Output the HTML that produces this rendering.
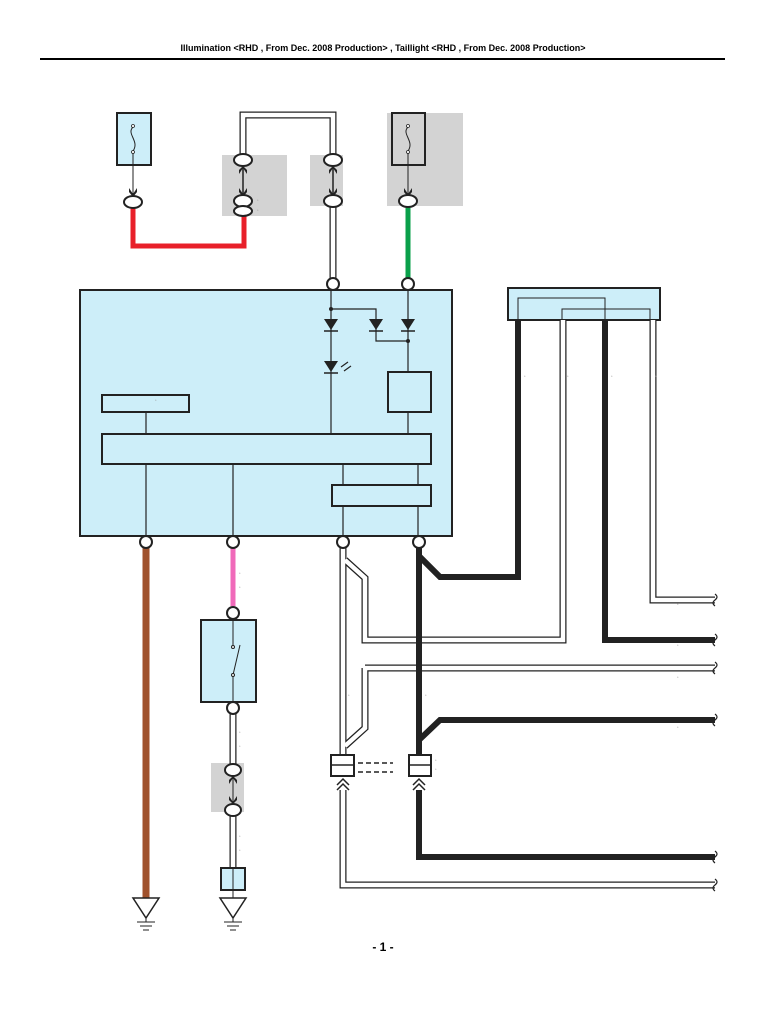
<!DOCTYPE html>
<html><head><meta charset="utf-8"><style>
html,body{margin:0;padding:0;background:#fff;}
svg{display:block;font-family:"Liberation Sans",sans-serif;}
</style></head><body>
<svg width="768" height="1024" viewBox="0 0 768 1024" xmlns="http://www.w3.org/2000/svg">
<text x="383" y="51" font-size="9" font-weight="bold" text-anchor="middle">Illumination &lt;RHD , From Dec. 2008 Production&gt; , Taillight &lt;RHD , From Dec. 2008 Production&gt;</text>
<line x1="40" y1="59" x2="725" y2="59" stroke="#000" stroke-width="2"/>

<rect x="222" y="155" width="65" height="61" fill="#d3d3d3"/>
<rect x="310" y="155" width="33" height="51" fill="#d3d3d3"/>
<rect x="387" y="113" width="76" height="93" fill="#d3d3d3"/>
<rect x="211" y="763" width="33" height="49" fill="#d3d3d3"/>

<rect x="117" y="113" width="34" height="52" fill="#cdeef9" stroke="#222" stroke-width="2"/>
<path d="M133 127 C126 134,140 141,133 151" fill="none" stroke="#222"/>
<circle cx="133" cy="126" r="1.5" fill="#fff" stroke="#222" stroke-width="0.8"/>
<circle cx="133" cy="152" r="1.5" fill="#fff" stroke="#222" stroke-width="0.8"/>
<line x1="133" y1="153" x2="133" y2="195" stroke="#222"/>
<rect x="392" y="113" width="33" height="52" fill="#d3d3d3" stroke="#222" stroke-width="2"/>
<path d="M408 127 C401 134,415 141,408 151" fill="none" stroke="#222"/>
<circle cx="408" cy="126" r="1.5" fill="#fff" stroke="#222" stroke-width="0.8"/>
<circle cx="408" cy="152" r="1.5" fill="#fff" stroke="#222" stroke-width="0.8"/>
<line x1="408" y1="153" x2="408" y2="195" stroke="#222"/>

<path d="M133 208 V246 H244 V214" fill="none" stroke="#e8202a" stroke-width="5"/>
<path d="M408 207 V278" fill="none" stroke="#0aa04a" stroke-width="5"/>
<g fill="none">
<path d="M243 155 V115 H333 V155 M333 206 V278" stroke="#222" stroke-width="7"/>
<path d="M243 155 V115 H333 V155 M333 206 V278" stroke="#fff" stroke-width="4.5"/>
</g>
<line x1="243" y1="166" x2="243" y2="195" stroke="#222" stroke-width="1.5"/>
<line x1="333" y1="166" x2="333" y2="195" stroke="#222" stroke-width="1.5"/>
<g fill="#222">
<path d="M129 188 L133 194 L137 188 L137 192 L133 197 L129 192Z"/>
<path d="M404 188 L408 194 L412 188 L412 192 L408 197 L404 192Z"/>
<path d="M239 188 L243 194 L247 188 L247 192 L243 197 L239 192Z"/>
<path d="M329 188 L333 194 L337 188 L337 192 L333 197 L329 192Z"/>
<path d="M239 174 L243 168 L247 174 L247 170 L243 166 L239 170Z"/>
<path d="M329 174 L333 168 L337 174 L337 170 L333 166 L329 170Z"/>
</g>
<g fill="#fff" stroke="#222" stroke-width="2">
<ellipse cx="133" cy="202" rx="9" ry="6"/>
<ellipse cx="243" cy="160" rx="9" ry="6"/>
<ellipse cx="243" cy="201" rx="9" ry="6"/>
<ellipse cx="243" cy="211" rx="9" ry="5"/>
<ellipse cx="333" cy="160" rx="9" ry="6"/>
<ellipse cx="333" cy="201" rx="9" ry="6"/>
<ellipse cx="408" cy="201" rx="9" ry="6"/>
</g>
<g fill="#999" font-size="4"><text x="257" y="202">*</text><text x="257" y="212">*</text></g>

<rect x="80" y="290" width="372" height="246" fill="#cdeef9" stroke="#222" stroke-width="2"/>
<g stroke="#222" stroke-width="1.2" fill="none">
<path d="M331 290 V434"/>
<path d="M331 309 H376 V341 H408"/>
<path d="M408 290 V372 M408 412 V434"/>
<path d="M146 412 V434"/>
<path d="M146 464 V536 M233 464 V536 M343 464 V485 M343 506 V536 M418 464 V485 M418 506 V536"/>
</g>
<circle cx="331" cy="309" r="2" fill="#222"/>
<circle cx="408" cy="341" r="2" fill="#222"/>
<g fill="#222">
<path d="M324 319 H338 L331 330Z"/><line x1="324" y1="331" x2="338" y2="331" stroke="#222" stroke-width="1.5"/>
<path d="M369 319 H383 L376 330Z"/><line x1="369" y1="331" x2="383" y2="331" stroke="#222" stroke-width="1.5"/>
<path d="M401 319 H415 L408 330Z"/><line x1="401" y1="331" x2="415" y2="331" stroke="#222" stroke-width="1.5"/>
<path d="M324 361 H338 L331 372Z"/><line x1="324" y1="373" x2="338" y2="373" stroke="#222" stroke-width="1.5"/>
</g>
<path d="M341 367 L348 362 M344 371 L351 366" stroke="#222" stroke-width="1.2"/>
<rect x="388" y="372" width="43" height="40" fill="#cdeef9" stroke="#222" stroke-width="2"/>
<rect x="102" y="395" width="87" height="17" fill="#cdeef9" stroke="#222" stroke-width="2"/>
<rect x="102" y="434" width="329" height="30" fill="#cdeef9" stroke="#222" stroke-width="2"/>
<rect x="332" y="485" width="99" height="21" fill="#cdeef9" stroke="#222" stroke-width="2"/>
<g fill="#fff" stroke="#222" stroke-width="2">
<circle cx="333" cy="284" r="6"/><circle cx="408" cy="284" r="6"/>
</g>

<rect x="508" y="288" width="152" height="32" fill="#cdeef9" stroke="#222" stroke-width="2"/>
<path d="M518 320 V298 H605 V320 M562 320 V309 H650 V320" fill="none" stroke="#222" stroke-width="1"/>

<g fill="none" stroke-linejoin="miter">
<path d="M343 548 V757 M343 790 V885 H715 M345 560 L365 578 V640 H563 V320 M365 668 H715 M365 668 V728 L345 746 M653 320 V600 H715" stroke="#222" stroke-width="7"/>
<path d="M343 548 V757 M343 790 V885 H715 M345 560 L365 578 V640 H563 V320 M365 668 H715 M365 668 V728 L345 746 M653 320 V600 H715" stroke="#fff" stroke-width="4.5"/>
<path d="M233 714 V765 M233 816 V868" stroke="#222" stroke-width="7"/>
<path d="M233 714 V765 M233 816 V868" stroke="#fff" stroke-width="4.5"/>
</g>
<g fill="none" stroke="#222" stroke-width="6">
<path d="M518 320 V577 H440 L420 557"/>
<path d="M605 320 V640 H715"/>
<path d="M419 548 V757"/>
<path d="M419 740 L440 720 H715"/>
<path d="M419 790 V857 H715"/>
</g>
<path d="M146 548 V898" stroke="#a0522d" stroke-width="7"/>
<path d="M233 548 V606" stroke="#f06aba" stroke-width="5"/>

<g fill="#fff" stroke="#222" stroke-width="2">
<circle cx="146" cy="542" r="6"/><circle cx="233" cy="542" r="6"/><circle cx="343" cy="542" r="6"/><circle cx="419" cy="542" r="6"/>
</g>

<rect x="201" y="620" width="55" height="82" fill="#cdeef9" stroke="#222" stroke-width="2"/>
<path d="M233 620 V647 M233 675 V702 M233 675 L240 645" stroke="#222" fill="none"/>
<circle cx="233" cy="647" r="1.5" fill="#fff" stroke="#222"/><circle cx="233" cy="675" r="1.5" fill="#fff" stroke="#222"/>
<g fill="#fff" stroke="#222" stroke-width="2">
<circle cx="233" cy="613" r="6"/><circle cx="233" cy="708" r="6"/>
<ellipse cx="233" cy="770" rx="8" ry="6"/><ellipse cx="233" cy="810" rx="8" ry="6"/>
</g>
<line x1="233" y1="776" x2="233" y2="804" stroke="#222"/>
<path d="M229 784 L233 778 L237 784 L237 780 L233 776 L229 780Z M229 796 L233 802 L237 796 L237 800 L233 804 L229 800Z" fill="#222"/>
<rect x="221" y="868" width="24" height="22" fill="#cdeef9" stroke="#222" stroke-width="2"/>
<line x1="233" y1="868" x2="233" y2="900" stroke="#222"/>

<g fill="#fff" stroke="#222" stroke-width="1.5">
<path d="M133 898 H159 L146 918Z"/><path d="M220 898 H246 L233 918Z"/>
</g>
<g stroke="#222" stroke-width="1">
<path d="M146 918 V922 M137 922 H155 M140 926 H152 M143 930 H149"/>
<path d="M233 918 V922 M224 922 H242 M227 926 H239 M230 930 H236"/>
</g>

<g fill="#fff" stroke="#222" stroke-width="2">
<rect x="331" y="755" width="23" height="21"/><rect x="409" y="755" width="22" height="21"/>
</g>
<path d="M331 765 H354 M409 765 H431" stroke="#222" stroke-width="1.5"/>
<path d="M358 763 H393 M358 772 H393" stroke="#222" stroke-width="1.5" stroke-dasharray="5,3"/>
<g fill="none" stroke="#222" stroke-width="1.5">
<path d="M337 785 L343 779 L349 785 M337 790 L343 784 L349 790"/>
<path d="M413 785 L419 779 L425 785 M413 790 L419 784 L425 790"/>
</g>

<g fill="#999" font-size="4">
<text x="524" y="378">*</text><text x="567" y="378">*</text><text x="611" y="378">*</text><text x="655" y="378">*</text>
<text x="348" y="697">*</text><text x="425" y="697">*</text><text x="435" y="762">*</text><text x="435" y="771">*</text>
<text x="677" y="606">*</text><text x="677" y="647">*</text><text x="677" y="679">*</text><text x="677" y="729">*</text>
<text x="239" y="575">*</text><text x="239" y="589">*</text><text x="239" y="734">*</text><text x="239" y="748">*</text>
<text x="239" y="838">*</text><text x="239" y="852">*</text><text x="155" y="402">*</text>
</g>

<g fill="none" stroke="#222" stroke-width="1.2">
<path d="M715 594 q4 3 0 6 q-4 3 0 6"/>
<path d="M715 634 q4 3 0 6 q-4 3 0 6"/>
<path d="M715 662 q4 3 0 6 q-4 3 0 6"/>
<path d="M715 714 q4 3 0 6 q-4 3 0 6"/>
<path d="M715 851 q4 3 0 6 q-4 3 0 6"/>
<path d="M715 879 q4 3 0 6 q-4 3 0 6"/>
</g>

<text x="383" y="951" font-size="12" font-weight="bold" text-anchor="middle">- 1 -</text>
</svg>
</body></html>
